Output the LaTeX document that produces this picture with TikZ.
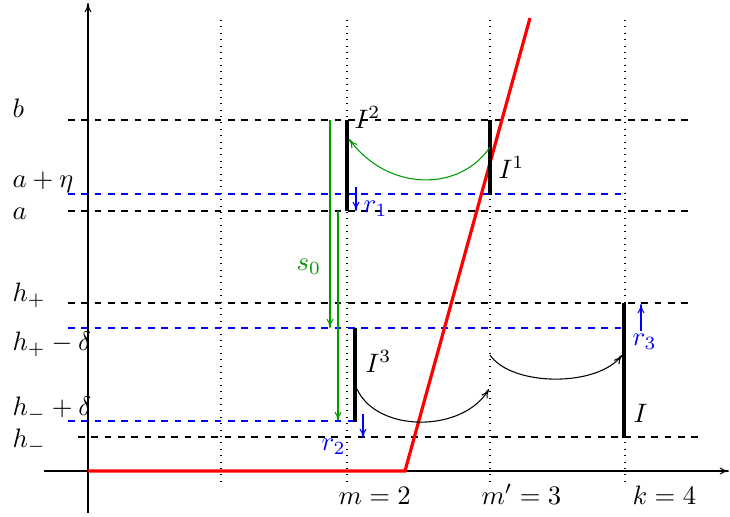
\documentclass[tikz,border=0pt]{standalone}
\usetikzlibrary{calc,arrows.meta}
\definecolor{mygreen}{rgb}{0,0.6,0}
\begin{document}
\begin{tikzpicture}[x=0.375pt,y=-0.375pt,
  >={To[length=3.5pt,width=2.6pt]},
  hdash/.style={dash pattern=on 2.5pt off 2.5pt, line width=0.4pt},
  vdot/.style={dotted, line width=0.4pt},
  seg/.style={line width=1.6pt},
  lbl/.style={anchor=base west, inner sep=0pt},
  garr/.style={->, mygreen, line width=0.4pt},
  barr/.style={->, blue, line width=0.4pt}]
\useasboundingbox (0,0) rectangle (730,516);
% axes
\coordinate (xs) at (44,471); \coordinate (xe) at (729,471);
\coordinate (ys) at (88,513); \coordinate (ye) at (88,3);
\draw[->, line width=0.4pt] (xs) -- (xe);
\draw[->, line width=0.4pt] (ys) -- (ye);
% dotted verticals
\foreach \x/\n in {221/d1,347/d2,490/d3,625/d4}{
  \coordinate (\n t) at (\x,20); \coordinate (\n b) at (\x,486);
  \draw[vdot] (\n t) -- (\n b);}
% dashed horizontals
\coordinate (bL) at (68,120); \coordinate (bR) at (693,120);
\coordinate (aeL) at (68,194); \coordinate (aeR) at (622,194);
\coordinate (aL) at (68,211); \coordinate (aR) at (693,211);
\coordinate (hpL) at (68,303); \coordinate (hpR) at (693,303);
\coordinate (hpdL) at (68,328); \coordinate (hpdR) at (625,328);
\coordinate (hmdL) at (68,421); \coordinate (hmdR) at (355,421);
\coordinate (hmL) at (78,437); \coordinate (hmR) at (700,437);
\draw[hdash] (bL) -- (bR);
\draw[hdash, blue] (aeL) -- (aeR);
\draw[hdash] (aL) -- (aR);
\draw[hdash] (hpL) -- (hpR);
\draw[hdash, blue] (hpdL) -- (hpdR);
\draw[hdash, blue] (hmdL) -- (hmdR);
\draw[hdash] (hmL) -- (hmR);
% red graph
\coordinate (r0) at (88,471); \coordinate (r1) at (405,471); \coordinate (r2) at (530,18);
\draw[red, line width=1.2pt] (r0) -- (r1) -- (r2);
% intervals
\coordinate (I2t) at (347,120); \coordinate (I2b) at (347,211);
\coordinate (I1t) at (490,120); \coordinate (I1b) at (490,195);
\coordinate (I3t) at (355,328); \coordinate (I3b) at (355,422);
\coordinate (It) at (624,303); \coordinate (Ib) at (624,438);
\draw[seg] (I2t) -- (I2b);
\draw[seg] (I1t) -- (I1b);
\draw[seg] (I3t) -- (I3b);
\draw[seg] (It) -- (Ib);
% green arrows
\coordinate (s0t) at (330,120); \coordinate (s0b) at (330,328);
\coordinate (g2t) at (338,211); \coordinate (g2b) at (338,421);
\draw[garr] (s0t) -- (s0b);
\draw[garr] (g2t) -- (g2b);
\coordinate (c1s) at (490,147); \coordinate (c1e) at (349,139);
\draw[garr] (c1s) .. controls (460,192) and (388,192) .. (c1e);
% black curved arrows
\coordinate (c2s) at (357,389); \coordinate (c2e) at (489,389);
\draw[->, line width=0.4pt] (c2s) .. controls (377,433) and (463,433) .. (c2e);
\coordinate (c3s) at (490,355); \coordinate (c3e) at (622,355);
\draw[->, line width=0.4pt] (c3s) .. controls (512,387) and (598,387) .. (c3e);
% blue small arrows
\coordinate (r1s) at (356,187); \coordinate (r1e) at (356,211);
\coordinate (r2s) at (363,414); \coordinate (r2e) at (363,438);
\coordinate (r3s) at (641,331); \coordinate (r3e) at (641,304);
\draw[barr] (r1s) -- (r1e);
\draw[barr] (r2s) -- (r2e);
\draw[barr] (r3s) -- (r3e);
% left labels
\node[lbl] (lb) at (12,117) {$b$};
\node[lbl] (lae) at (12,187) {$a+\eta$};
\node[lbl] (la) at (12,219) {$a$};
\node[lbl] (lhp) at (12,301) {$h_+$};
\node[lbl] (lhpd) at (12,350) {$h_+-\delta$};
\node[lbl] (lhmd) at (12,415) {$h_-+\delta$};
\node[lbl] (lhm) at (12,447) {$h_-$};
% interval labels
\node[lbl] (tI2) at (354,128) {$I^2$};
\node[lbl] (tI1) at (498,178) {$I^1$};
\node[lbl] (tI3) at (365,372) {$I^3$};
\node[lbl] (tI) at (633,422) {$I$};
\node[lbl, blue] (tr1) at (363,212) {$r_1$};
\node[lbl, blue] (tr2) at (321,450) {$r_2$};
\node[lbl, blue] (tr3) at (632,345) {$r_3$};
\node[lbl, mygreen] (ts0) at (296,270) {$s_0$};
% axis labels
\node[lbl] (tm) at (338,504) {$m=2$};
\node[lbl] (tmp) at (481,504) {$m'=3$};
\node[lbl] (tk) at (632,504) {$k=4$};
\end{tikzpicture}
\end{document}
